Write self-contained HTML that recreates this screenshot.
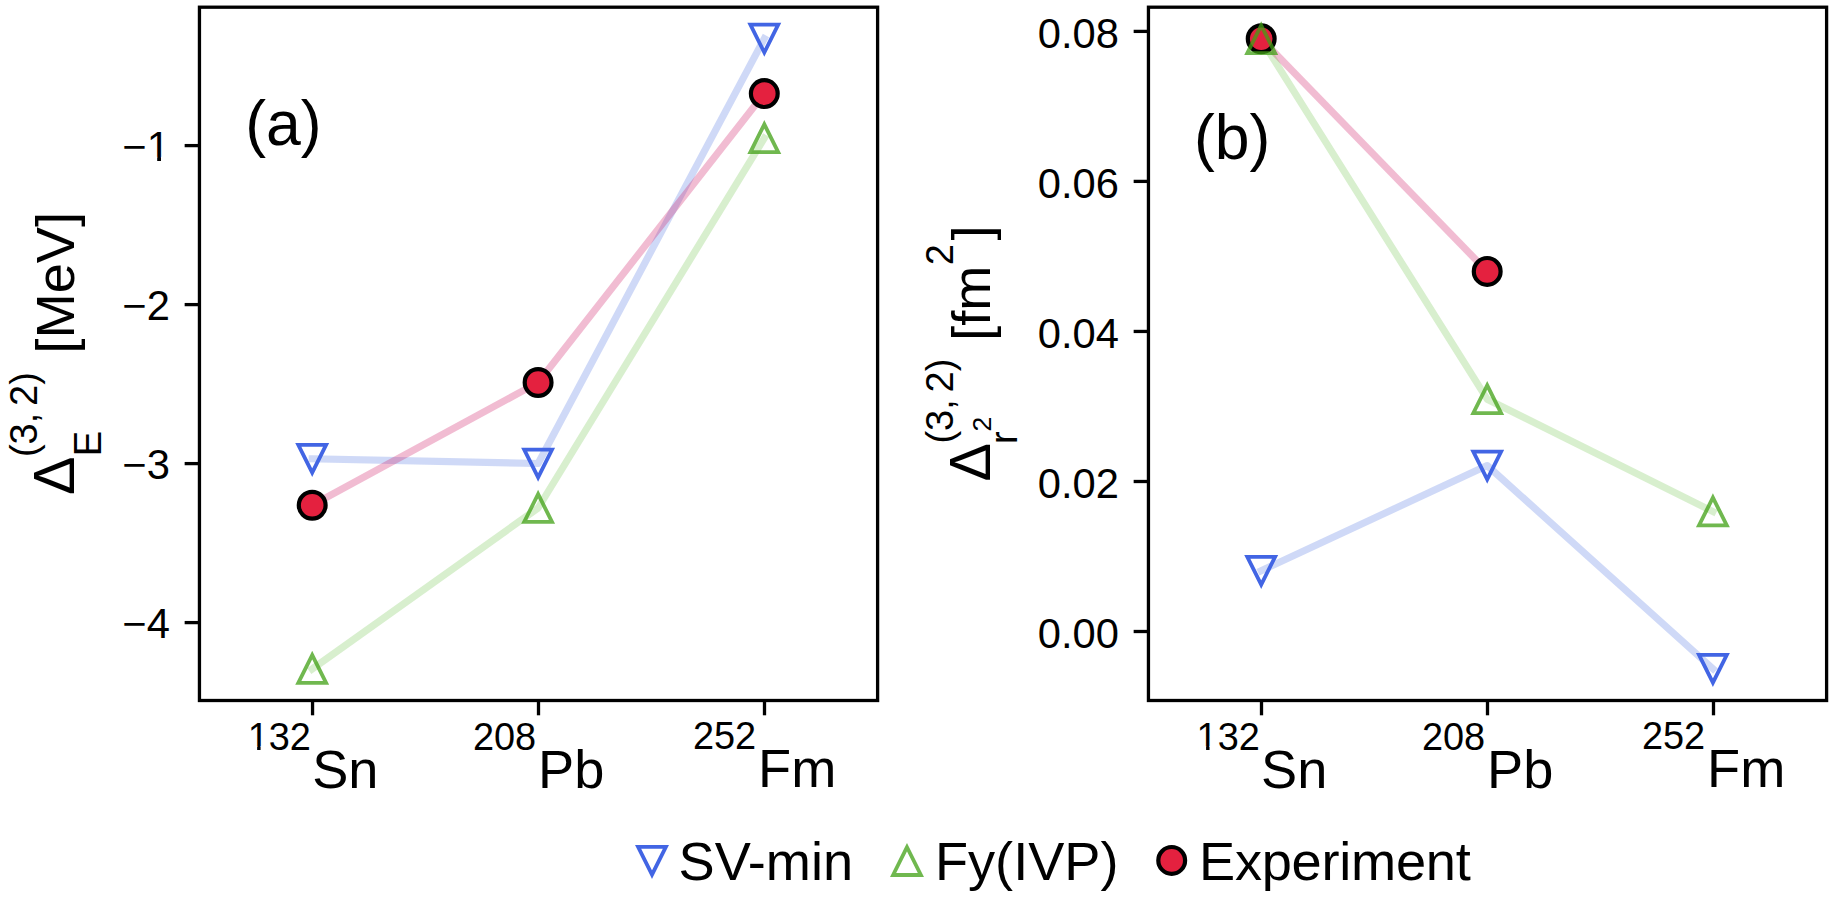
<!DOCTYPE html>
<html lang="en"><head><meta charset="utf-8"><title>Figure</title>
<style>html,body{margin:0;padding:0;background:#fff;}body{width:1836px;height:900px;overflow:hidden;}svg{display:block;}text{font-family:"Liberation Sans", sans-serif;fill:#000;font-kerning:normal;}</style>
</head><body>
<svg width="1836" height="900" viewBox="0 0 1836 900">
<rect width="1836" height="900" fill="#fff"/>
<g id="panel-a">
<polyline points="312.20,458.80 538.10,463.50 764.30,38.60" fill="none" stroke="#4169e1" stroke-opacity="0.25" stroke-width="7.1" stroke-linecap="square" stroke-linejoin="round"/>
<polyline points="312.20,669.00 538.10,508.00 764.30,138.20" fill="none" stroke="#64be3c" stroke-opacity="0.25" stroke-width="7.1" stroke-linecap="square" stroke-linejoin="round"/>
<polyline points="312.20,505.20 538.10,382.50 764.30,93.60" fill="none" stroke="#d02069" stroke-opacity="0.3" stroke-width="7.1" stroke-linecap="square" stroke-linejoin="round"/>
<path d="M312.20 472.70L298.30 444.90L326.10 444.90Z" fill="none" stroke="#4265e4" stroke-width="3.8" stroke-linejoin="miter" stroke-miterlimit="10"/>
<path d="M538.10 477.40L524.20 449.60L552.00 449.60Z" fill="none" stroke="#4265e4" stroke-width="3.8" stroke-linejoin="miter" stroke-miterlimit="10"/>
<path d="M764.30 52.50L750.40 24.70L778.20 24.70Z" fill="none" stroke="#4265e4" stroke-width="3.8" stroke-linejoin="miter" stroke-miterlimit="10"/>
<path d="M312.20 655.10L298.30 682.90L326.10 682.90Z" fill="none" stroke="#40a014" stroke-opacity="0.75" stroke-width="3.8" stroke-linejoin="miter" stroke-miterlimit="10"/>
<path d="M538.10 494.10L524.20 521.90L552.00 521.90Z" fill="none" stroke="#40a014" stroke-opacity="0.75" stroke-width="3.8" stroke-linejoin="miter" stroke-miterlimit="10"/>
<path d="M764.30 124.30L750.40 152.10L778.20 152.10Z" fill="none" stroke="#40a014" stroke-opacity="0.75" stroke-width="3.8" stroke-linejoin="miter" stroke-miterlimit="10"/>
<circle cx="312.20" cy="505.20" r="13.4" fill="#e4213f" stroke="#000" stroke-width="4.2"/>
<circle cx="538.10" cy="382.50" r="13.4" fill="#e4213f" stroke="#000" stroke-width="4.2"/>
<circle cx="764.30" cy="93.60" r="13.4" fill="#e4213f" stroke="#000" stroke-width="4.2"/>
<rect x="199.45" y="7.20" width="678.15" height="693.30" fill="none" stroke="#000" stroke-width="3.3" stroke-linejoin="miter"/>
<line x1="312.55" y1="700.50" x2="312.55" y2="715.30" stroke="#000" stroke-width="3.3"/>
<line x1="538.50" y1="700.50" x2="538.50" y2="715.30" stroke="#000" stroke-width="3.3"/>
<line x1="764.50" y1="700.50" x2="764.50" y2="715.30" stroke="#000" stroke-width="3.3"/>
<line x1="199.45" y1="145.60" x2="184.65" y2="145.60" stroke="#000" stroke-width="3.3"/>
<text x="169.85" y="161.00" font-size="41.7" text-anchor="end">−1</text>
<rect x="148.42" y="156.83" width="8.77" height="5.67" fill="#fff"/><rect x="160.98" y="156.83" width="8.35" height="5.67" fill="#fff"/>
<line x1="199.45" y1="304.60" x2="184.65" y2="304.60" stroke="#000" stroke-width="3.3"/>
<text x="169.85" y="320.00" font-size="41.7" text-anchor="end">−2</text>
<line x1="199.45" y1="463.60" x2="184.65" y2="463.60" stroke="#000" stroke-width="3.3"/>
<text x="169.85" y="479.00" font-size="41.7" text-anchor="end">−3</text>
<line x1="199.45" y1="622.60" x2="184.65" y2="622.60" stroke="#000" stroke-width="3.3"/>
<text x="169.85" y="638.00" font-size="41.7" text-anchor="end">−4</text>
<text x="247.65" y="750.00" font-size="37.9">132</text>
<rect x="249.17" y="746.21" width="7.97" height="5.29" fill="#fff"/><rect x="260.58" y="746.21" width="7.59" height="5.29" fill="#fff"/>
<text x="312.15" y="788.00" font-size="54.2">Sn</text>
<text x="472.90" y="750.00" font-size="37.9">208</text>
<text x="538.10" y="788.00" font-size="54.2">Pb</text>
<text x="692.90" y="749.00" font-size="37.9">252</text>
<text x="758.10" y="787.00" font-size="54.2">Fm</text>
<text x="245.30" y="145.30" font-size="62.5">(a)</text>
</g>
<g id="panel-b">
<polyline points="1261.20,570.80 1487.20,465.50 1712.90,668.80" fill="none" stroke="#4169e1" stroke-opacity="0.25" stroke-width="7.1" stroke-linecap="square" stroke-linejoin="round"/>
<polyline points="1261.20,38.80 1487.20,271.40" fill="none" stroke="#d02069" stroke-opacity="0.3" stroke-width="7.1" stroke-linecap="square" stroke-linejoin="round"/>
<polyline points="1261.20,39.30 1487.20,399.20 1712.90,511.50" fill="none" stroke="#64be3c" stroke-opacity="0.25" stroke-width="7.1" stroke-linecap="square" stroke-linejoin="round"/>
<path d="M1261.20 584.70L1247.30 556.90L1275.10 556.90Z" fill="none" stroke="#4265e4" stroke-width="3.8" stroke-linejoin="miter" stroke-miterlimit="10"/>
<path d="M1487.20 479.40L1473.30 451.60L1501.10 451.60Z" fill="none" stroke="#4265e4" stroke-width="3.8" stroke-linejoin="miter" stroke-miterlimit="10"/>
<path d="M1712.90 682.70L1699.00 654.90L1726.80 654.90Z" fill="none" stroke="#4265e4" stroke-width="3.8" stroke-linejoin="miter" stroke-miterlimit="10"/>
<circle cx="1261.20" cy="38.80" r="13.4" fill="#e4213f" stroke="#000" stroke-width="4.2"/>
<circle cx="1487.20" cy="271.40" r="13.4" fill="#e4213f" stroke="#000" stroke-width="4.2"/>
<path d="M1261.20 25.40L1247.30 53.20L1275.10 53.20Z" fill="none" stroke="#40a014" stroke-opacity="0.75" stroke-width="3.8" stroke-linejoin="miter" stroke-miterlimit="10"/>
<path d="M1487.20 385.30L1473.30 413.10L1501.10 413.10Z" fill="none" stroke="#40a014" stroke-opacity="0.75" stroke-width="3.8" stroke-linejoin="miter" stroke-miterlimit="10"/>
<path d="M1712.90 497.60L1699.00 525.40L1726.80 525.40Z" fill="none" stroke="#40a014" stroke-opacity="0.75" stroke-width="3.8" stroke-linejoin="miter" stroke-miterlimit="10"/>
<rect x="1148.45" y="7.20" width="678.15" height="693.30" fill="none" stroke="#000" stroke-width="3.3" stroke-linejoin="miter"/>
<line x1="1261.50" y1="700.50" x2="1261.50" y2="715.30" stroke="#000" stroke-width="3.3"/>
<line x1="1487.50" y1="700.50" x2="1487.50" y2="715.30" stroke="#000" stroke-width="3.3"/>
<line x1="1713.50" y1="700.50" x2="1713.50" y2="715.30" stroke="#000" stroke-width="3.3"/>
<line x1="1148.45" y1="31.40" x2="1133.65" y2="31.40" stroke="#000" stroke-width="3.3"/>
<text x="1118.85" y="47.90" font-size="41.7" text-anchor="end">0.08</text>
<line x1="1148.45" y1="181.40" x2="1133.65" y2="181.40" stroke="#000" stroke-width="3.3"/>
<text x="1118.85" y="197.90" font-size="41.7" text-anchor="end">0.06</text>
<line x1="1148.45" y1="331.45" x2="1133.65" y2="331.45" stroke="#000" stroke-width="3.3"/>
<text x="1118.85" y="347.95" font-size="41.7" text-anchor="end">0.04</text>
<line x1="1148.45" y1="481.50" x2="1133.65" y2="481.50" stroke="#000" stroke-width="3.3"/>
<text x="1118.85" y="498.00" font-size="41.7" text-anchor="end">0.02</text>
<line x1="1148.45" y1="631.50" x2="1133.65" y2="631.50" stroke="#000" stroke-width="3.3"/>
<text x="1118.85" y="648.00" font-size="41.7" text-anchor="end">0.00</text>
<text x="1196.60" y="750.00" font-size="37.9">132</text>
<rect x="1198.12" y="746.21" width="7.97" height="5.29" fill="#fff"/><rect x="1209.53" y="746.21" width="7.59" height="5.29" fill="#fff"/>
<text x="1261.10" y="788.00" font-size="54.2">Sn</text>
<text x="1421.90" y="750.00" font-size="37.9">208</text>
<text x="1487.10" y="788.00" font-size="54.2">Pb</text>
<text x="1641.90" y="749.00" font-size="37.9">252</text>
<text x="1707.10" y="787.00" font-size="54.2">Fm</text>
<text x="1194.00" y="159.30" font-size="62.5">(b)</text>
</g>
<g id="ylabel-a">
<text transform="translate(74.20 495.00) rotate(-90)" font-size="57.5">Δ</text>
<text transform="translate(37.20 457.00) rotate(-90)" font-size="37.9">(3, <tspan x="51.1">2)</tspan></text>
<text transform="translate(101.20 456.20) rotate(-90)" font-size="37.9">E</text>
<text transform="translate(74.20 353.50) rotate(-90)" font-size="54.2">[MeV]</text>
</g>
<g id="ylabel-b">
<text transform="translate(990.30 481.50) rotate(-90)" font-size="57.5">Δ</text>
<text transform="translate(953.30 443.50) rotate(-90)" font-size="37.9">(3, <tspan x="51.1">2)</tspan></text>
<text transform="translate(1017.00 444.10) rotate(-90)" font-size="37.9">r</text>
<text transform="translate(991.20 431.40) rotate(-90)" font-size="26.5">2</text>
<text transform="translate(990.30 340.80) rotate(-90)" font-size="54.2">[fm</text>
<text transform="translate(953.10 265.20) rotate(-90)" font-size="37.9">2</text>
<text transform="translate(990.30 240.50) rotate(-90)" font-size="54.2">]</text>
</g>
<g id="legend">
<path d="M652.00 874.70L638.10 846.90L665.90 846.90Z" fill="none" stroke="#4265e4" stroke-width="3.8" stroke-linejoin="miter" stroke-miterlimit="10"/>
<text x="678.5" y="879.8" font-size="54.2">SV-min</text>
<path d="M907.00 847.20L893.10 875.00L920.90 875.00Z" fill="none" stroke="#40a014" stroke-opacity="0.75" stroke-width="3.8" stroke-linejoin="miter" stroke-miterlimit="10"/>
<text x="934.9" y="879.8" font-size="54.2">Fy(IVP)</text>
<circle cx="1171.70" cy="860.40" r="13.4" fill="#e4213f" stroke="#000" stroke-width="4.2"/>
<text x="1199.0" y="879.8" font-size="54.2" letter-spacing="-0.25">Experiment</text>
</g>
</svg>
</body></html>
